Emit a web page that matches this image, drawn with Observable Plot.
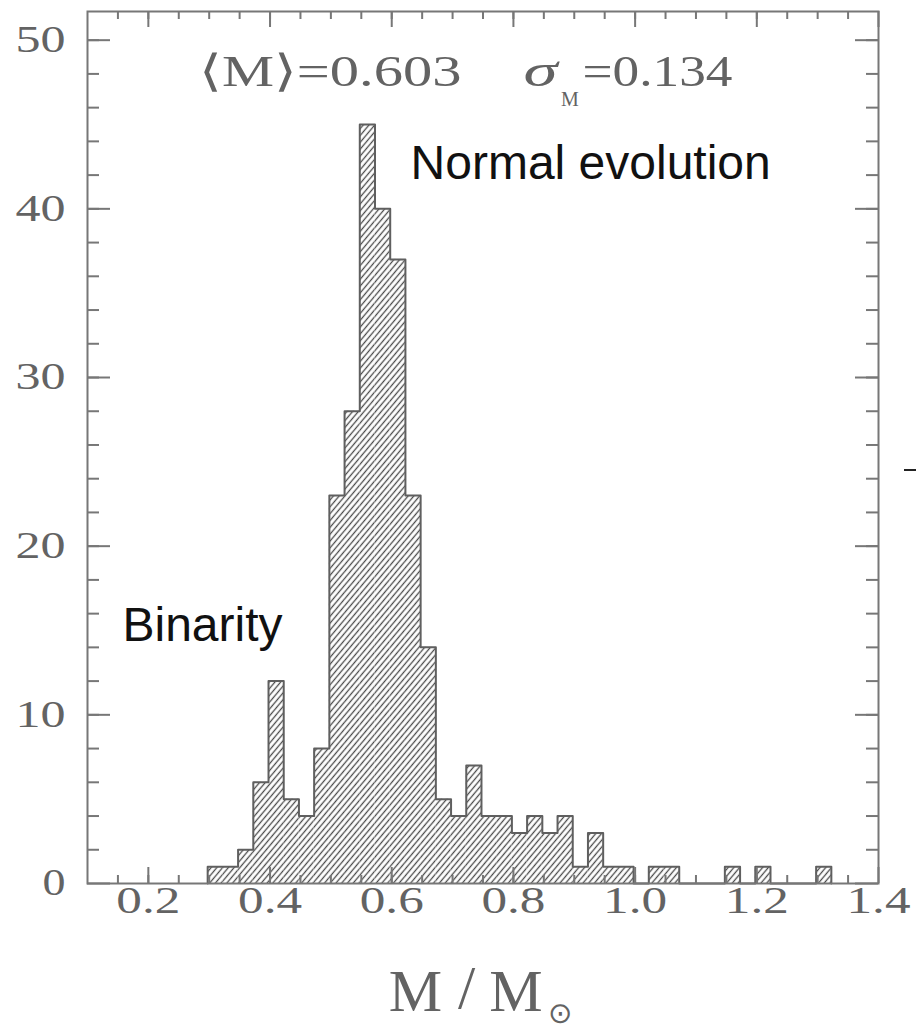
<!DOCTYPE html>
<html><head><meta charset="utf-8">
<script src="https://cdn.jsdelivr.net/npm/d3@7"></script>
<script src="https://cdn.jsdelivr.net/npm/@observablehq/plot@0.6"></script>
<style>
html,body{margin:0;padding:0;background:#fff;overflow:hidden;}
#chart{position:relative;width:916px;height:1029px;}
#chart svg{display:block;}
#dash{position:absolute;left:904px;top:469px;width:12px;height:1.5px;background:#222;}
</style></head><body><div id="chart"></div>
<script>
// histogram bins (centres, in solar masses) and counts
const massCenters = [0.31,0.335,0.36,0.385,0.41,0.435,0.46,0.485,0.51,0.535,0.56,0.585,0.61,0.635,0.66,0.685,0.71,0.735,0.76,0.785,0.81,0.835,0.86,0.885,0.91,0.935,0.96,0.985,1.01,1.035,1.06,1.085,1.11,1.135,1.16,1.185,1.21,1.235,1.26,1.285,1.31];
const binWidth = 0.025;
const counts = [1,1,2,6,12,5,4,8,23,28,45,40,37,23,14,5,4,7,4,4,3,4,3,4,1,3,1,1,0,1,1,0,0,0,1,0,1,0,0,0,1];
const xTickLabels = [0.2,0.4,0.6,0.8,1.0,1.2,1.4];
const yTickLabels = [0,10,20,30,40,50];
const xMinor = d3.range(0.15, 1.4, 0.05);
const yMinor = d3.range(2, 51, 2);

const bins = massCenters.map((m,i)=>({lo: m - binWidth/2, hi: m + binWidth/2, n: counts[i]}));
const outline = [{x: bins[0].lo, y: 0}, ...bins.map(b=>({x: b.lo, y: b.n})), {x: bins[bins.length-1].hi, y: 0}];

const W = 916, H = 1029, mL = 87, mR = 38, mT = 11, mB = 146;
const pw = W - mL - mR, ph = H - mT - mB;
const axisGrey = "#777";
const serif = "Liberation Serif, Times New Roman, serif";
const textGrey = "#636363";

const svg = Plot.plot({
  width: W, height: H,
  marginLeft: mL, marginRight: mR, marginTop: mT, marginBottom: mB,
  x: {domain: [0.1, 1.4], axis: null},
  y: {domain: [0, 51.7], axis: null},
  marks: [
    Plot.rectY(bins, {x1: "lo", x2: "hi", y: "n", fill: "url(#hatch)"}),
    Plot.line(outline, {x: "x", y: "y", curve: "step-after", stroke: "#5f5f5f", strokeWidth: 2}),
    Plot.frame({stroke: axisGrey, strokeWidth: 2}),
    // x ticks bottom & top
    Plot.tickX(xMinor, {x: d=>d, insetTop: ph - 8, stroke: axisGrey, strokeWidth: 2}),
    Plot.tickX(xMinor, {x: d=>d, insetBottom: ph - 8, stroke: axisGrey, strokeWidth: 2}),
    Plot.tickX(xTickLabels, {x: d=>d, insetTop: ph - 16, stroke: axisGrey, strokeWidth: 2}),
    Plot.tickX(xTickLabels, {x: d=>d, insetBottom: ph - 16, stroke: axisGrey, strokeWidth: 2}),
    // y ticks left & right
    Plot.tickY(yMinor, {y: d=>d, insetRight: pw - 12, stroke: axisGrey, strokeWidth: 2}),
    Plot.tickY(yMinor, {y: d=>d, insetLeft: pw - 12, stroke: axisGrey, strokeWidth: 2}),
    Plot.tickY(yTickLabels, {y: d=>d, insetRight: pw - 23, stroke: axisGrey, strokeWidth: 2}),
    Plot.tickY(yTickLabels, {y: d=>d, insetLeft: pw - 23, stroke: axisGrey, strokeWidth: 2}),
    // tick labels
    Plot.text(xTickLabels, {x: d=>d, frameAnchor: "bottom", dy: 29, text: d=>d.toFixed(1),
      fontSize: 37, fontFamily: serif, fill: textGrey}),
    Plot.text(yTickLabels, {y: d=>d, frameAnchor: "left", dx: -22, text: d=>String(d), textAnchor: "end",
      fontSize: 37, fontFamily: serif, fill: textGrey}),
    // statistics annotation
    Plot.text(["⟨M⟩=0.603"], {x: 0.284, y: 47.31, text: d=>d, textAnchor: "start", lineAnchor: "bottom",
      fontSize: 44, fontFamily: serif, fill: textGrey}),
    Plot.text(["σ"], {x: 0.8166, y: 47.31, text: d=>d, textAnchor: "start", lineAnchor: "bottom",
      fontSize: 46, fontFamily: serif, fontStyle: "italic", fill: textGrey}),
    Plot.text(["M"], {x: 0.878, y: 46.1, text: d=>d, textAnchor: "start", lineAnchor: "bottom",
      fontSize: 20, fontFamily: serif, fill: textGrey}),
    Plot.text(["=0.134"], {x: 0.9135, y: 47.31, text: d=>d, textAnchor: "start", lineAnchor: "bottom",
      fontSize: 44, fontFamily: serif, fill: textGrey}),
    // region labels
    Plot.text(["Normal evolution"], {x: 0.631, y: 41.74, text: d=>d, textAnchor: "start", lineAnchor: "bottom",
      fontSize: 48, fontFamily: "Liberation Sans, Arial, sans-serif", fill: "#111"}),
    Plot.text(["Binarity"], {x: 0.1575, y: 14.35, text: d=>d, textAnchor: "start", lineAnchor: "bottom",
      fontSize: 48, fontFamily: "Liberation Sans, Arial, sans-serif", fill: "#111"}),
    // x axis title  M / M_sun
    Plot.text(["M"], {x: 0.639, y: -7.53, text: d=>d, lineAnchor: "bottom", fontSize: 60, fontFamily: serif, fill: textGrey}),
    Plot.text(["/"], {x: 0.723, y: -7.4, text: d=>d, lineAnchor: "bottom", fontSize: 62, fontFamily: serif, fill: textGrey}),
    Plot.text(["M"], {x: 0.804, y: -7.53, text: d=>d, lineAnchor: "bottom", fontSize: 60, fontFamily: serif, fill: textGrey}),
    Plot.text(["⊙"], {x: 0.877, y: -7.75, text: d=>d, fontSize: 29, fontFamily: "DejaVu Sans, sans-serif", fill: textGrey})
  ]
});

// hatch pattern (continuous across bars)
const defs = d3.select(svg).insert("defs", ":first-child");
const pat = defs.append("pattern").attr("id", "hatch").attr("patternUnits", "userSpaceOnUse")
  .attr("width", 10).attr("height", 4.4).attr("patternTransform", "rotate(-50)");
pat.append("rect").attr("width", 10).attr("height", 4.4).attr("fill", "#fff");
pat.append("line").attr("x1", 0).attr("y1", 2.2).attr("x2", 10).attr("y2", 2.2)
  .attr("stroke", "#4a4a4a").attr("stroke-width", 1.3);

// wide lettering like the original stroke font: stretch glyphs to the reference widths
d3.select(svg).selectAll("text").each(function() {
  const t = this.textContent;
  let len = null;
  if (/^\d\.\d$/.test(t)) len = 64;
  else if (/^\d\d$/.test(t)) len = 50;
  else if (t === "0") len = 23;
  else if (t === "⟨M⟩=0.603") len = 262;
  else if (t === "=0.134") len = 150;
  else if (t === "σ") len = 34;
  if (len) {
    this.setAttribute("textLength", len);
    this.setAttribute("lengthAdjust", "spacingAndGlyphs");
  }
});

const chart = document.getElementById("chart");
chart.appendChild(svg);
const dash = document.createElement("div");
dash.id = "dash";
chart.appendChild(dash);
</script>
</body></html>
